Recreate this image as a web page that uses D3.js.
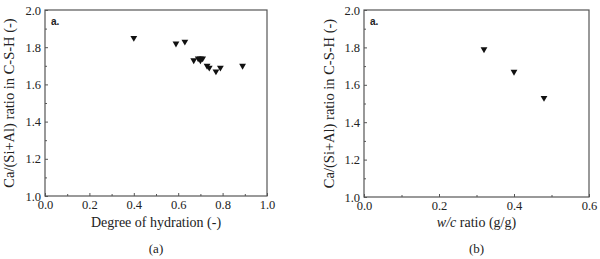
<!DOCTYPE html>
<html><head><meta charset="utf-8">
<script src="https://cdn.jsdelivr.net/npm/d3@7"></script>
<style>body{margin:0;background:#fff}svg{display:block}text{font-family:"Liberation Serif","Times New Roman",serif;fill:#222}</style>
</head><body>
<svg id="c" width="600" height="259"></svg>
<script>
const hydration = [0.40,0.59,0.63,0.67,0.69,0.70,0.71,0.70,0.73,0.74,0.77,0.79,0.89];
const ratioA    = [1.85,1.82,1.83,1.73,1.74,1.74,1.74,1.73,1.70,1.69,1.67,1.69,1.70];
const wc        = [0.32,0.40,0.48];
const ratioB    = [1.79,1.67,1.53];
const xTicksA = [0,0.2,0.4,0.6,0.8,1.0];
const xTicksB = [0,0.2,0.4,0.6];
const yTicks  = [1.0,1.2,1.4,1.6,1.8,2.0];

const svg = d3.select("#c");
function panel(o){
  const g = svg.append("g");
  const x = d3.scaleLinear().domain(o.xd).range([o.l,o.r]);
  const y = d3.scaleLinear().domain([1,2]).range([o.b,o.t]);
  g.append("rect").attr("x",o.l).attr("y",o.t).attr("width",o.r-o.l).attr("height",o.b-o.t)
    .attr("fill","none").attr("stroke","#555").attr("stroke-width",1.2);
  const xa = g.append("g").attr("transform",`translate(0,${o.b})`)
    .call(d3.axisBottom(x).tickValues(o.xt).tickFormat(d3.format(".1f")).tickSize(-3).tickPadding(4));
  const xm = g.append("g").attr("transform",`translate(0,${o.b})`)
    .call(d3.axisBottom(x).tickValues(o.xt.slice(0,-1).map(v=>v+0.1)).tickFormat("").tickSize(-2));
  const ya = g.append("g").attr("transform",`translate(${o.l},0)`)
    .call(d3.axisLeft(y).tickValues(yTicks).tickFormat(d3.format(".1f")).tickSize(-3).tickPadding(4));
  const ym = g.append("g").attr("transform",`translate(${o.l},0)`)
    .call(d3.axisLeft(y).tickValues(yTicks.slice(0,-1).map(v=>v+0.1)).tickFormat("").tickSize(-2));
  [xa,xm,ya,ym].forEach(a=>{a.select(".domain").remove();a.selectAll("line").attr("stroke","#555");
    a.selectAll("text").style("font-size","12.5px").attr("fill","#222");});
  const tri = d3.symbol().type(d3.symbolTriangle).size(20);
  g.selectAll("path.pt").data(o.xs).join("path").attr("class","pt")
    .attr("d",tri).attr("fill","#111")
    .attr("transform",(d,i)=>`translate(${x(d)},${y(o.ys[i])}) rotate(180)`);
  g.append("text").attr("x",o.l+6).attr("y",o.t+15).attr("font-weight","bold")
    .style("font-family","Liberation Sans, Arial, sans-serif").style("font-size","10px").text("a.");
  g.append("text").attr("transform",`translate(${o.yl},${(o.t+o.b)/2}) rotate(-90)`)
    .attr("text-anchor","middle").style("font-size","14.5px").text("Ca/(Si+Al) ratio in C-S-H (-)");
  const xt = g.append("text").attr("x",(o.l+o.r)/2).attr("y",227).attr("text-anchor","middle").style("font-size","14px");
  o.xlab(xt);
  g.append("text").attr("x",(o.l+o.r)/2).attr("y",253).attr("text-anchor","middle").style("font-size","13px").text(o.cap);
}
panel({l:45,r:267,t:10,b:196,xd:[0,1],xt:xTicksA,xs:hydration,ys:ratioA,yl:14,cap:"(a)",
  xlab:t=>t.text("Degree of hydration (-)")});
panel({l:364,r:589,t:10,b:197,xd:[0,0.6],xt:xTicksB,xs:wc,ys:ratioB,yl:334,cap:"(b)",
  xlab:t=>{t.append("tspan").attr("font-style","italic").text("w/c");t.append("tspan").text(" ratio (g/g)");}});
</script>
</body></html>
